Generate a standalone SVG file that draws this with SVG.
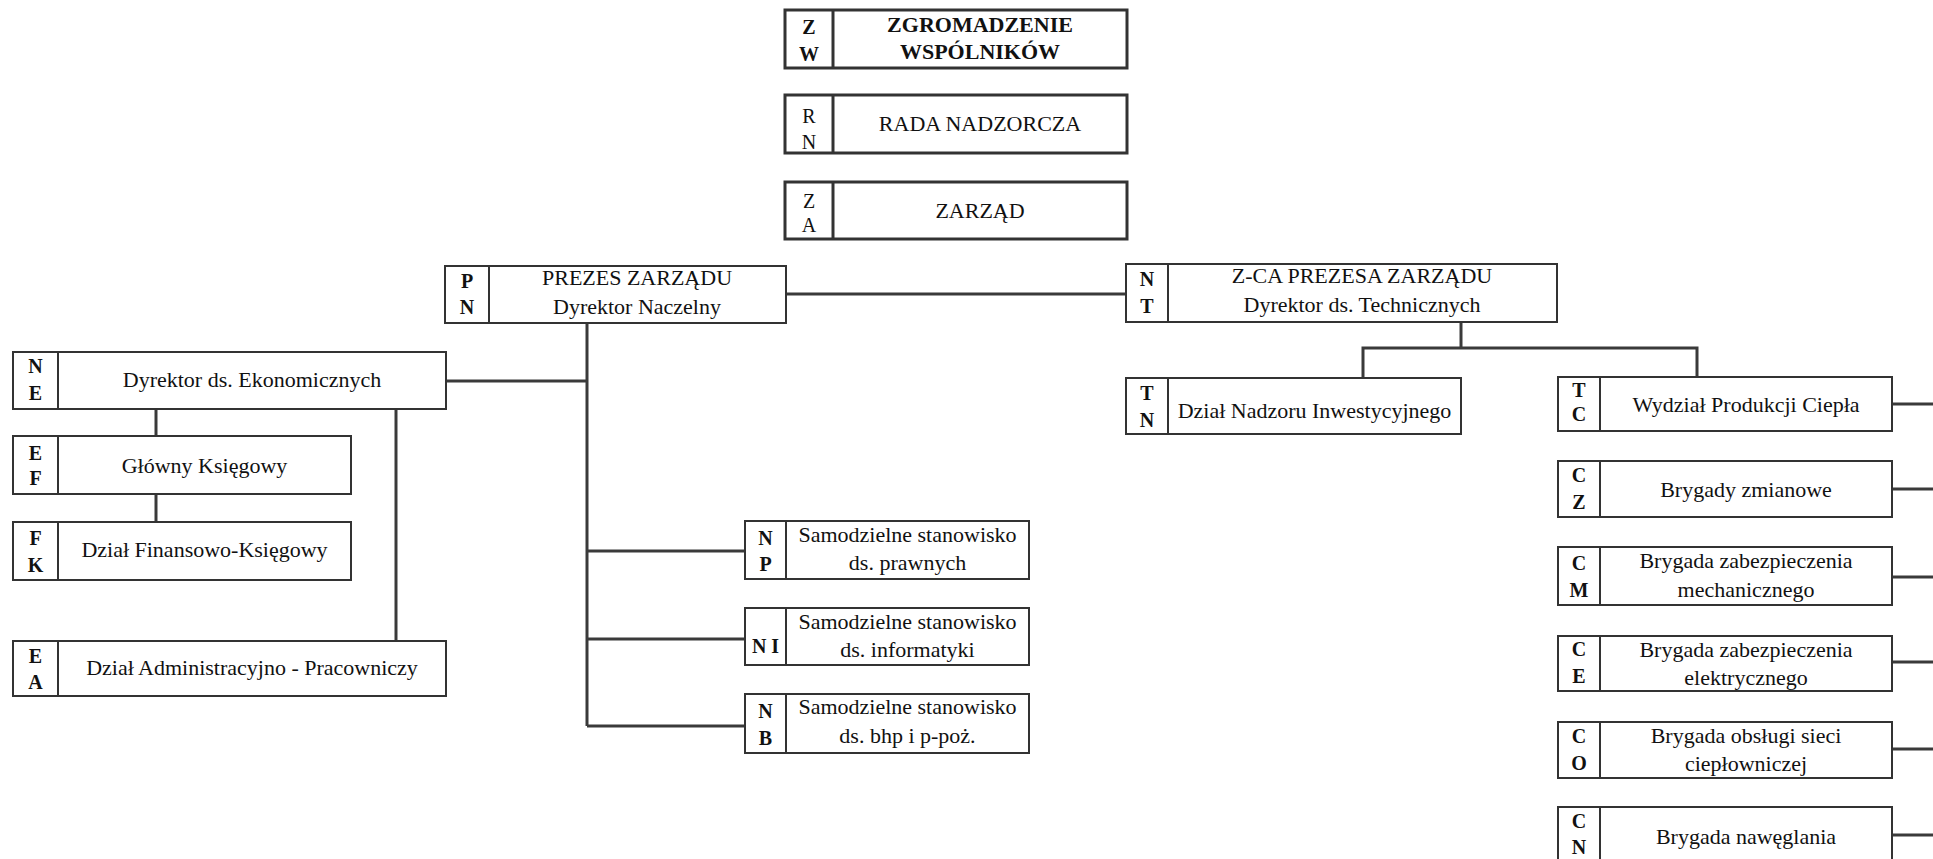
<svg xmlns="http://www.w3.org/2000/svg" width="1933" height="859" viewBox="0 0 1933 859">
<style>
.bx{fill:#fff;stroke:#333;stroke-width:2}
.bt{fill:#fff;stroke:#333;stroke-width:3}
.dv{stroke:#333;stroke-width:2}
.dt{stroke:#333;stroke-width:3}
.cn{stroke:#3a3a3a;stroke-width:3;fill:none}
text{font-family:"Liberation Serif","Times New Roman",serif;fill:#111;text-anchor:middle}
.t{font-size:22px}
.tb{font-size:22px;font-weight:bold}
.l{font-size:20px;font-weight:bold}
.lr{font-size:20px}
</style>
<rect width="1933" height="859" fill="#fff"/>
<g id="connectors">
<path class="cn" d="M786 294H1126"/>
<path class="cn" d="M587 323V726"/>
<path class="cn" d="M446 381H587"/>
<path class="cn" d="M156 409V436"/>
<path class="cn" d="M156 494V522"/>
<path class="cn" d="M396 409V641"/>
<path class="cn" d="M587 551H745"/>
<path class="cn" d="M587 639H745"/>
<path class="cn" d="M587 726H745"/>
<path class="cn" d="M1461 322V348"/>
<path class="cn" d="M1363 378V348H1697V377"/>
<path class="cn" d="M1892 404H1933"/>
<path class="cn" d="M1892 489H1933"/>
<path class="cn" d="M1892 577H1933"/>
<path class="cn" d="M1892 662H1933"/>
<path class="cn" d="M1892 749H1933"/>
<path class="cn" d="M1892 835H1933"/>
</g>
<g id="ZW">
<rect class="bt" x="785" y="10" width="342" height="58"/>
<line class="dt" x1="833" y1="10" x2="833" y2="68"/>
<text class="l" x="809" y="34">Z</text><text class="l" x="809" y="61">W</text>
<text class="tb" x="980" y="32">ZGROMADZENIE</text>
<text class="tb" x="980" y="59">WSPÓLNIKÓW</text>
</g>
<g id="RN">
<rect class="bt" x="785" y="95" width="342" height="58"/>
<line class="dt" x1="833" y1="95" x2="833" y2="153"/>
<text class="lr" x="809" y="123">R</text><text class="lr" x="809" y="149">N</text>
<text class="t" x="980" y="131">RADA NADZORCZA</text>
</g>
<g id="ZA">
<rect class="bt" x="785" y="182" width="342" height="57"/>
<line class="dt" x1="833" y1="182" x2="833" y2="239"/>
<text class="lr" x="809" y="208">Z</text><text class="lr" x="809" y="232">A</text>
<text class="t" x="980" y="218">ZARZĄD</text>
</g>
<g id="PN">
<rect class="bx" x="445" y="266" width="341" height="57"/>
<line class="dv" x1="489" y1="266" x2="489" y2="323"/>
<text class="l" x="467" y="288">P</text><text class="l" x="467" y="314">N</text>
<text class="t" x="637" y="285">PREZES ZARZĄDU</text>
<text class="t" x="637" y="314">Dyrektor Naczelny</text>
</g>
<g id="NT">
<rect class="bx" x="1126" y="264" width="431" height="58"/>
<line class="dv" x1="1168" y1="264" x2="1168" y2="322"/>
<text class="l" x="1147" y="286">N</text><text class="l" x="1147" y="313">T</text>
<text class="t" x="1362" y="283">Z-CA PREZESA ZARZĄDU</text>
<text class="t" x="1362" y="312">Dyrektor ds. Technicznych</text>
</g>
<g id="NE">
<rect class="bx" x="13" y="352" width="433" height="57"/>
<line class="dv" x1="58" y1="352" x2="58" y2="409"/>
<text class="l" x="35.5" y="373">N</text><text class="l" x="35.5" y="400">E</text>
<text class="t" x="252" y="387">Dyrektor ds. Ekonomicznych</text>
</g>
<g id="EF">
<rect class="bx" x="13" y="436" width="338" height="58"/>
<line class="dv" x1="58" y1="436" x2="58" y2="494"/>
<text class="l" x="35.5" y="460">E</text><text class="l" x="35.5" y="485">F</text>
<text class="t" x="204.5" y="473">Główny Księgowy</text>
</g>
<g id="FK">
<rect class="bx" x="13" y="522" width="338" height="58"/>
<line class="dv" x1="58" y1="522" x2="58" y2="580"/>
<text class="l" x="35.5" y="545">F</text><text class="l" x="35.5" y="572">K</text>
<text class="t" x="204.5" y="557">Dział Finansowo-Księgowy</text>
</g>
<g id="EA">
<rect class="bx" x="13" y="641" width="433" height="55"/>
<line class="dv" x1="58" y1="641" x2="58" y2="696"/>
<text class="l" x="35.5" y="663">E</text><text class="l" x="35.5" y="689">A</text>
<text class="t" x="252" y="675">Dział Administracyjno - Pracowniczy</text>
</g>
<g id="NP">
<rect class="bx" x="745" y="521" width="284" height="58"/>
<line class="dv" x1="786" y1="521" x2="786" y2="579"/>
<text class="l" x="765.5" y="545">N</text><text class="l" x="765.5" y="571">P</text>
<text class="t" x="907.5" y="542">Samodzielne stanowisko</text>
<text class="t" x="907.5" y="570">ds. prawnych</text>
</g>
<g id="NI">
<rect class="bx" x="745" y="608" width="284" height="57"/>
<line class="dv" x1="786" y1="608" x2="786" y2="665"/>
<text class="l" x="765.5" y="653">N  I</text>
<text class="t" x="907.5" y="629">Samodzielne stanowisko</text>
<text class="t" x="907.5" y="657">ds. informatyki</text>
</g>
<g id="NB">
<rect class="bx" x="745" y="694" width="284" height="59"/>
<line class="dv" x1="786" y1="694" x2="786" y2="753"/>
<text class="l" x="765.5" y="718">N</text><text class="l" x="765.5" y="745">B</text>
<text class="t" x="907.5" y="714">Samodzielne stanowisko</text>
<text class="t" x="907.5" y="743">ds. bhp i p-poż.</text>
</g>
<g id="TN">
<rect class="bx" x="1126" y="378" width="335" height="56"/>
<line class="dv" x1="1168" y1="378" x2="1168" y2="434"/>
<text class="l" x="1147" y="400">T</text><text class="l" x="1147" y="427">N</text>
<text class="t" x="1314.5" y="418">Dział Nadzoru Inwestycyjnego</text>
</g>
<g id="TC">
<rect class="bx" x="1558" y="377" width="334" height="54"/>
<line class="dv" x1="1600" y1="377" x2="1600" y2="431"/>
<text class="l" x="1579" y="397">T</text><text class="l" x="1579" y="421">C</text>
<text class="t" x="1746" y="412">Wydział Produkcji Ciepła</text>
</g>
<g id="CZ">
<rect class="bx" x="1558" y="461" width="334" height="56"/>
<line class="dv" x1="1600" y1="461" x2="1600" y2="517"/>
<text class="l" x="1579" y="482">C</text><text class="l" x="1579" y="509">Z</text>
<text class="t" x="1746" y="497">Brygady zmianowe</text>
</g>
<g id="CM">
<rect class="bx" x="1558" y="547" width="334" height="58"/>
<line class="dv" x1="1600" y1="547" x2="1600" y2="605"/>
<text class="l" x="1579" y="570">C</text><text class="l" x="1579" y="597">M</text>
<text class="t" x="1746" y="568">Brygada zabezpieczenia</text>
<text class="t" x="1746" y="597">mechanicznego</text>
</g>
<g id="CE">
<rect class="bx" x="1558" y="636" width="334" height="55"/>
<line class="dv" x1="1600" y1="636" x2="1600" y2="691"/>
<text class="l" x="1579" y="656">C</text><text class="l" x="1579" y="683">E</text>
<text class="t" x="1746" y="657">Brygada zabezpieczenia</text>
<text class="t" x="1746" y="685">elektrycznego</text>
</g>
<g id="CO">
<rect class="bx" x="1558" y="722" width="334" height="56"/>
<line class="dv" x1="1600" y1="722" x2="1600" y2="778"/>
<text class="l" x="1579" y="743">C</text><text class="l" x="1579" y="770">O</text>
<text class="t" x="1746" y="743">Brygada obsługi sieci</text>
<text class="t" x="1746" y="771">ciepłowniczej</text>
</g>
<g id="CN">
<rect class="bx" x="1558" y="807" width="334" height="57"/>
<line class="dv" x1="1600" y1="807" x2="1600" y2="864"/>
<text class="l" x="1579" y="828">C</text><text class="l" x="1579" y="854">N</text>
<text class="t" x="1746" y="844">Brygada nawęglania</text>
</g>
</svg>
